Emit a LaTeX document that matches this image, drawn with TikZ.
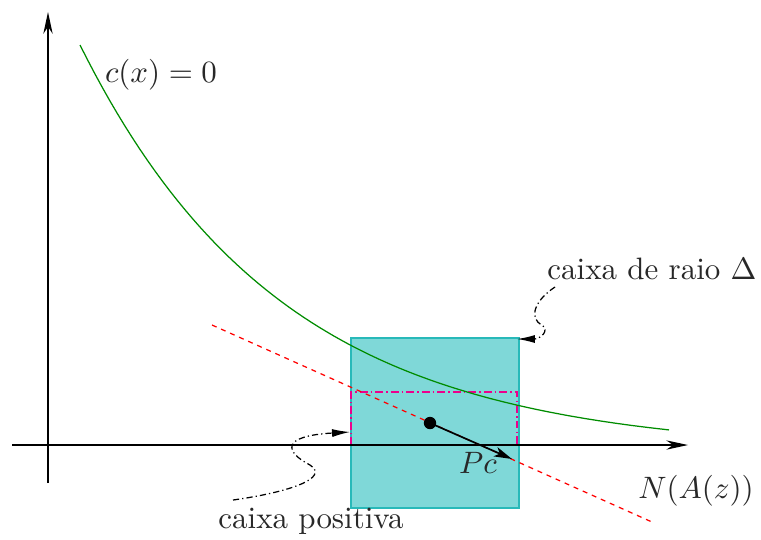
\documentclass[tikz,border=0pt]{standalone}
\usetikzlibrary{arrows.meta}
\definecolor{boxfill}{RGB}{127,216,216}
\definecolor{boxedge}{RGB}{40,185,185}
\definecolor{curvegreen}{RGB}{0,140,0}
\definecolor{txt}{RGB}{40,40,40}
\begin{document}
\begin{tikzpicture}[x=0.323pt,y=-0.323pt,line width=0.4pt,
  axis/.style={-{Stealth[length=7pt,width=3pt,inset=2.2pt]}},
  callout/.style={dash pattern=on 2pt off 1pt on 0.4pt off 1pt,-{Latex[length=5.8pt,width=2.6pt]}},
  lbl/.style={inner sep=0pt,text=txt},
  trust/.style={draw=boxedge,fill=boxfill},
  posbox/.style={draw=magenta,dash pattern=on 2.5pt off 1pt on 0.5pt off 1pt}]
\useasboundingbox (0,0) rectangle (761,539);
% coordinates
\coordinate (xs) at (12,445);
\coordinate (xe) at (688,445);
\coordinate (ys) at (48,483);
\coordinate (ye) at (48,12);
\coordinate (bsw) at (351,508);
\coordinate (bne) at (519,338);
\coordinate (psw) at (351,445);
\coordinate (pne) at (517,392);
\coordinate (rs) at (212,325);
\coordinate (re) at (652,522);
% boxes
\draw[trust] (bsw) rectangle (bne);
\draw[posbox] (psw) rectangle (pne);
% axes
\draw[axis] (xs) -- (xe);
\draw[axis] (ys) -- (ye);
% constraint curve
\draw[curvegreen] plot[domain=80:669,samples=80] (\x,{452-407*exp(-0.00495*(\x-80))});
% linearization
\draw[red,dash pattern=on 1.6pt off 1.6pt] (rs) -- (re);
% point and step
\node[circle,fill=black,inner sep=0pt,minimum size=4pt] (pt) at (430,423) {};
\coordinate (pc) at (512,459);
\draw[line width=0.55pt,-{Stealth[length=5.8pt,width=3.2pt,inset=1.5pt]}] (pt.center) -- (pc);
% labels
\node[lbl] (cx) at (161,75) {$c(x)=0$};
\node[lbl] (pclbl) at (478,463) {$Pc$};
\node[lbl] (nz) at (696,491) {$N(A(z))$};
\node[lbl] (raio) at (652,269) {caixa de raio $\Delta$};
\node[lbl] (pos) at (311,521) {caixa positiva};
% callouts
\coordinate (c1s) at (233,500);
\coordinate (c1e) at (350,432);
\draw[callout] (c1s) .. controls (290,492) and (330,478) .. (310,465)
  .. controls (285,452) and (280,436) .. (c1e);
\coordinate (c2s) at (555,287);
\coordinate (c2e) at (517,339);
\draw[callout] (c2s) .. controls (535,300) and (528,318) .. (542,325)
  .. controls (550,331) and (540,339) .. (c2e);
\end{tikzpicture}
\end{document}
